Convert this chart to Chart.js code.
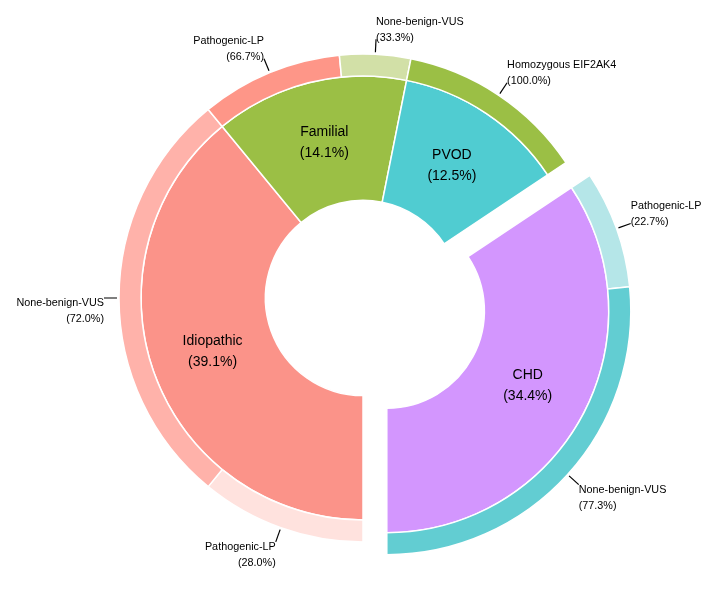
<!DOCTYPE html>
<html>
<head>
<meta charset="utf-8">
<script src="https://cdn.jsdelivr.net/npm/chart.js@4.4.1/dist/chart.umd.min.js"></script>
<style>
  html, body { margin: 0; padding: 0; background: #fff; }
  #wrap { width: 727px; height: 600px; position: relative; }
</style>
</head>
<body>
<div id="wrap"><canvas id="c"></canvas></div>
<script>
// ---- data ----
const categories = ['Idiopathic', 'Familial', 'PVOD', 'CHD'];
const categoryPct = [39.1, 14.1, 12.5, 34.4];
const subGroup = [0, 0, 1, 1, 2, 3, 3];
const subLabels = ['Pathogenic-LP', 'None-benign-VUS', 'Pathogenic-LP', 'None-benign-VUS', 'Homozygous EIF2AK4', 'Pathogenic-LP', 'None-benign-VUS'];
const subPct = [28.0, 72.0, 66.7, 33.3, 100.0, 22.7, 77.3];
const explodedCategory = 'CHD';

// ---- styles ----
const innerColors = ['#fb9389', '#9bbf45', '#50ccd1', '#d396fe'];
const outerColors = ['#ffe2de', '#ffb2aa', '#fe9688', '#d2e0a7', '#9bbf45', '#b5e6e8', '#62cdd2'];

const outerValues = subPct.map((p, i) => categoryPct[subGroup[i]] * p / 100);

const explodePlugin = {
  id: 'explode',
  afterDatasetsUpdate(chart) {
    const innerMeta = chart.getDatasetMeta(1);
    const gi = categories.indexOf(explodedCategory);
    const ref = innerMeta.data[gi];
    if (!ref) return;
    const mid = (ref.startAngle + ref.endAngle) / 2;
    const d = 27;
    const dx = Math.cos(mid) * d, dy = Math.sin(mid) * d;
    innerMeta.data[gi].x += dx; innerMeta.data[gi].y += dy;
    const outerMeta = chart.getDatasetMeta(0);
    outerMeta.data.forEach((a, i) => {
      if (subGroup[i] === gi) { a.x += dx; a.y += dy; }
    });
  }
};

const labelPlugin = {
  id: 'labels',
  afterDraw(chart) {
    const ctx = chart.ctx;
    ctx.save();
    // outer labels
    const om = chart.getDatasetMeta(0);
    om.data.forEach((a, i) => {
      const mid = (a.startAngle + a.endAngle) / 2;
      const c = Math.cos(mid), s = Math.sin(mid);
      const r0 = a.outerRadius + 2, r1 = a.outerRadius + 15;
      const x0 = a.x + c * r0, y0 = a.y + s * r0;
      const x1 = a.x + c * r1, y1 = a.y + s * r1;
      ctx.strokeStyle = '#000';
      ctx.lineWidth = 1.2;
      ctx.beginPath(); ctx.moveTo(x0, y0); ctx.lineTo(x1, y1); ctx.stroke();
      ctx.fillStyle = '#000';
      ctx.font = '10.8px "Liberation Sans", Arial, sans-serif';
      ctx.textBaseline = 'middle';
      ctx.textAlign = c < 0 ? 'right' : 'left';
      const l1 = subLabels[i], l2 = '(' + subPct[i].toFixed(1) + '%)';
      let yA, yB;
      if (s > -0.1) { yA = y1 + 5; yB = yA + 16; }
      else { yB = y1 - 1.5; yA = yB - 16; }
      ctx.fillText(l1, x1, yA);
      ctx.fillText(l2, x1, yB);
    });
    // inner labels
    const im = chart.getDatasetMeta(1);
    im.data.forEach((a, i) => {
      const mid = (a.startAngle + a.endAngle) / 2;
      const r = (a.innerRadius + a.outerRadius) / 2;
      const x = a.x + Math.cos(mid) * r, y = a.y + Math.sin(mid) * r;
      ctx.fillStyle = '#000';
      ctx.font = '14px "Liberation Sans", Arial, sans-serif';
      ctx.textAlign = 'center';
      ctx.textBaseline = 'middle';
      ctx.fillText(categories[i], x, y - 10.5);
      ctx.fillText('(' + categoryPct[i].toFixed(1) + '%)', x, y + 10.5);
    });
    ctx.restore();
  }
};

new Chart(document.getElementById('c'), {
  type: 'doughnut',
  data: {
    labels: subLabels,
    datasets: [
      {
        label: 'Variants',
        data: outerValues,
        backgroundColor: outerColors,
        borderColor: '#ffffff',
        borderWidth: 1.5,
        weight: 22
      },
      {
        label: 'Etiology',
        data: categoryPct,
        backgroundColor: innerColors,
        borderColor: '#ffffff',
        borderWidth: 1.5,
        weight: 124
      }
    ]
  },
  options: {
    responsive: true,
    maintainAspectRatio: false,
    animation: false,
    rotation: 180,
    radius: 244,
    cutout: '40%',
    layout: { padding: { left: 0, right: 1, top: 0, bottom: 4 } },
    plugins: {
      legend: { display: false },
      tooltip: { enabled: false }
    },
    events: []
  },
  plugins: [explodePlugin, labelPlugin]
});
</script>
</body>
</html>
